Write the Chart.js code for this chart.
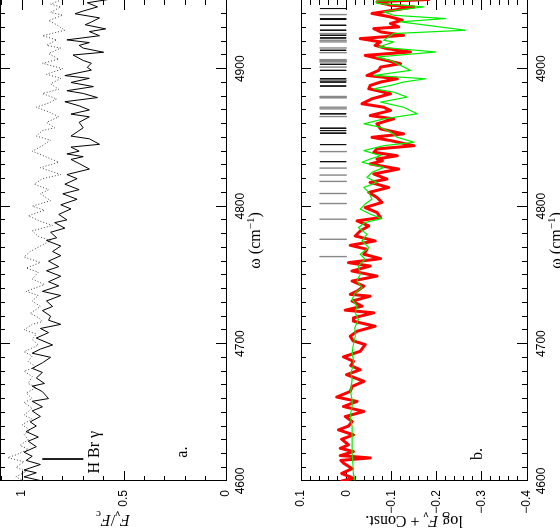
<!DOCTYPE html>
<html>
<head>
<meta charset="utf-8">
<script src="https://cdn.jsdelivr.net/npm/chart.js@4.4.1/dist/chart.umd.min.js"></script>
<style>
html, body { margin: 0; padding: 0; background: #fff; overflow: hidden; }
/* the figure is drawn landscape and turned a quarter turn, like the printed page */
#fig { position: absolute; left: 0; top: 0; width: 529px; height: 560px;
       transform-origin: 0 0; transform: translateY(529px) rotate(-90deg); }
canvas { display: block; }
</style>
</head>
<body>
<div id="fig">
  <canvas id="chartA" width="529" height="280"></canvas>
  <canvas id="chartB" width="529" height="280"></canvas>
</div>
<script>
// ---- values ----
// panel a, solid spectrum: wavenumber (cm-1) and F_nu/F_c
const solidW = [4600, 4603, 4606, 4608, 4612, 4615, 4618, 4621, 4625, 4629, 4632, 4636, 4640, 4643, 4647, 4651,
  4654, 4658, 4660, 4665, 4669, 4671, 4675, 4679, 4682, 4686, 4690, 4693, 4696, 4699, 4704, 4708, 4711, 4714,
  4717, 4720, 4724, 4727, 4731, 4735, 4738, 4742, 4745, 4749, 4753, 4756, 4760, 4764, 4767, 4771, 4775, 4777,
  4781, 4784, 4788, 4790, 4794, 4798, 4801, 4805, 4809, 4812, 4816, 4820, 4823, 4827, 4831, 4834, 4836, 4838,
  4840, 4843, 4845, 4849, 4851, 4854, 4857, 4861, 4865, 4867, 4870, 4873, 4876, 4879, 4882, 4884, 4887, 4890,
  4893, 4895, 4899, 4901, 4904, 4906, 4910, 4912, 4915, 4917, 4919, 4921, 4924, 4927, 4929, 4932, 4934, 4937,
  4940, 4942, 4945, 4948, 4951];
const solidF = [0.90, 0.99, 0.93, 0.99, 0.91, 0.98, 0.95, 0.99, 0.93, 0.97, 0.92, 0.98, 0.93, 0.96, 0.91, 0.95,
  0.90, 0.95, 0.87, 0.90, 0.95, 0.89, 0.93, 0.90, 0.95, 0.90, 0.86, 0.95, 0.91, 0.85, 0.93, 0.87, 0.91, 0.81,
  0.87, 0.86, 0.90, 0.85, 0.88, 0.81, 0.90, 0.82, 0.87, 0.81, 0.88, 0.82, 0.87, 0.81, 0.85, 0.81, 0.88, 0.83,
  0.86, 0.79, 0.84, 0.78, 0.82, 0.76, 0.81, 0.73, 0.80, 0.72, 0.79, 0.73, 0.78, 0.67, 0.72, 0.76, 0.70, 0.78,
  0.72, 0.76, 0.62, 0.67, 0.76, 0.73, 0.70, 0.72, 0.67, 0.76, 0.67, 0.72, 0.79, 0.63, 0.70, 0.78, 0.65, 0.76,
  0.67, 0.79, 0.66, 0.68, 0.66, 0.70, 0.75, 0.60, 0.70, 0.72, 0.67, 0.78, 0.62, 0.67, 0.59, 0.69, 0.66, 0.62,
  0.74, 0.70, 0.63, 0.68, 0.55];
// panel a, dotted spectrum
const dotW = [4600, 4603, 4607, 4610, 4614, 4617, 4619, 4623, 4626, 4630, 4634, 4637, 4641, 4645, 4648, 4653,
  4657, 4660, 4664, 4668, 4671, 4676, 4680, 4683, 4687, 4691, 4694, 4699, 4703, 4707, 4710, 4714, 4716, 4719,
  4722, 4727, 4731, 4735, 4738, 4743, 4747, 4752, 4755, 4759, 4763, 4767, 4771, 4775, 4778, 4782, 4786, 4789,
  4793, 4797, 4800, 4804, 4809, 4812, 4816, 4820, 4823, 4828, 4832, 4837, 4840, 4844, 4848, 4851, 4855, 4857,
  4861, 4865, 4868, 4872, 4875, 4878, 4882, 4885, 4889, 4893, 4896, 4900, 4904, 4907, 4911, 4915, 4917, 4921,
  4924, 4928, 4932, 4935, 4939, 4941, 4945, 4947, 4950];
const dotF = [0.99, 1.03, 0.98, 1.03, 0.99, 1.07, 1.03, 0.97, 1.01, 0.97, 0.99, 0.96, 1.00, 0.95, 0.99, 0.95,
  0.99, 0.95, 0.98, 0.93, 0.97, 0.95, 0.99, 0.93, 0.97, 0.95, 0.99, 0.92, 0.95, 0.93, 0.99, 0.95, 0.90, 0.92,
  0.96, 0.91, 0.95, 0.92, 0.98, 0.89, 0.95, 0.92, 0.98, 0.91, 0.99, 0.96, 0.91, 0.86, 0.92, 0.95, 0.85, 0.91,
  0.97, 0.89, 0.95, 0.86, 0.91, 0.87, 0.94, 0.90, 0.81, 0.91, 0.82, 0.90, 0.95, 0.90, 0.86, 0.93, 0.90, 0.84,
  0.88, 0.82, 0.86, 0.93, 0.87, 0.83, 0.90, 0.82, 0.86, 0.81, 0.88, 0.80, 0.90, 0.82, 0.87, 0.81, 0.88, 0.83,
  0.90, 0.79, 0.83, 0.87, 0.80, 0.86, 0.81, 0.86, 0.81];
// panel b, observed (red): log F_nu + const
const obsW = [4600, 4602, 4605.5, 4609, 4613, 4615, 4616.8, 4618.5, 4621.4, 4623.8, 4626.3, 4630.4, 4633.6, 4637.2,
  4640, 4643.3, 4646.9, 4650.6, 4654.2, 4657.9, 4661.1, 4665.2, 4668.8, 4672.5, 4677.4, 4681, 4684, 4687.1,
  4690.3, 4694.4, 4699.3, 4702, 4705.3, 4709, 4712.6, 4716.3, 4718.7, 4722.4, 4724.3, 4727.2, 4730.9, 4734.5,
  4735.8, 4738.2, 4741.8, 4745.5, 4749.1, 4752.8, 4756.4, 4758.9, 4761.8, 4765, 4768.6, 4771.5, 4774.7, 4778.3,
  4782, 4785.6, 4789.3, 4791.7, 4795.4, 4799, 4802.7, 4806.3, 4810, 4813.6, 4817.3, 4819.7, 4823.4, 4827,
  4830.7, 4833, 4834.3, 4836.7, 4839.2, 4841.6, 4844, 4847.7, 4850.1, 4852.6, 4856.2, 4859.9, 4863.5, 4865.9,
  4869.6, 4872, 4874.5, 4878.1, 4881.8, 4885.4, 4887.8, 4890.3, 4892.7, 4895.1, 4898.8, 4901.2, 4903.7, 4907.3,
  4909.7, 4912.2, 4914.6, 4917, 4919.5, 4921.9, 4924.3, 4926.8, 4929.2, 4930.4, 4932.9, 4935.3, 4937.7, 4940.2,
  4942.6, 4945, 4946.2, 4948.7, 4950.4];
const obsF = [0.010, -0.016, 0.010, -0.013, 0.006, 0.012, -0.053, 0.013, -0.016, 0.013, -0.005, 0.010, -0.016, 0.017,
  -0.005, -0.013, 0.002, -0.039, 0.006, -0.024, 0.021, -0.009, -0.013, -0.039, -0.001, -0.031, -0.010, -0.016,
  0.006, -0.031, -0.042, -0.015, -0.009, -0.024, -0.064, -0.016, -0.016, -0.061, 0.002, -0.035, -0.013, -0.053,
  -0.009, -0.024, -0.039, -0.013, -0.068, -0.013, -0.053, -0.005, -0.076, -0.039, -0.046, -0.009, -0.064, -0.020,
  -0.031, -0.050, -0.024, -0.076, -0.068, -0.042, -0.079, -0.068, -0.050, -0.094, -0.053, -0.090, -0.061, -0.116,
  -0.053, -0.080, -0.068, -0.113, -0.061, -0.068, -0.150, -0.098, -0.057, -0.127, -0.076, -0.068, -0.105, -0.053,
  -0.098, -0.083, -0.035, -0.057, -0.098, -0.050, -0.053, -0.076, -0.113, -0.046, -0.072, -0.076, -0.120, -0.072,
  -0.042, -0.142, -0.090, -0.064, -0.076, -0.031, -0.127, -0.076, -0.061, -0.116, -0.098, -0.124, -0.098, -0.057,
  -0.105, -0.150, -0.098, -0.068, -0.183];
// panel b, model (green)
const modW = [4600.7, 4605.6, 4610.4, 4615.3, 4620.2, 4625, 4632.3, 4639.6, 4644.5, 4649.4, 4654.2, 4659.1, 4664,
  4668.8, 4673.7, 4678.6, 4683.4, 4688.3, 4693.2, 4698, 4705.3, 4711.4, 4717.5, 4722.4, 4727.2, 4732.1, 4737,
  4740.6, 4745.5, 4750.4, 4756.4, 4761.3, 4765, 4769.8, 4774.7, 4779.6, 4784.4, 4788.1, 4791, 4794.2, 4797.8,
  4801.5, 4805.1, 4810, 4813.6, 4817.3, 4820.9, 4824.6, 4828.2, 4831.9, 4834.3, 4836.7, 4840.4, 4844, 4846.5,
  4850.1, 4853.8, 4857.4, 4859.9, 4863.5, 4867.2, 4872, 4875.7, 4879.3, 4883, 4885.4, 4887.8, 4890.3, 4892.7,
  4895.1, 4898.8, 4902.4, 4906.1, 4908.5, 4912.2, 4915.8, 4919.5, 4920.7, 4925.6, 4928, 4931.6, 4934.1, 4936.5,
  4938.9, 4941.4, 4945, 4947.5, 4949.2, 4951];
const modF = [-0.019, -0.016, -0.015, -0.014, -0.013, -0.013, -0.013, -0.013, -0.010, -0.010, -0.013, -0.013, -0.010,
  -0.011, -0.013, -0.010, -0.015, -0.016, -0.013, -0.015, -0.020, -0.019, -0.027, -0.020, -0.024, -0.013, -0.020,
  -0.035, -0.024, -0.031, -0.027, -0.042, -0.031, -0.050, -0.035, -0.046, -0.027, -0.042, -0.079, -0.053, -0.031,
  -0.042, -0.057, -0.050, -0.039, -0.068, -0.046, -0.057, -0.083, -0.035, -0.053, -0.076, -0.039, -0.083, -0.150,
  -0.113, -0.098, -0.076, -0.039, -0.083, -0.157, -0.127, -0.076, -0.135, -0.105, -0.061, -0.098, -0.127, -0.176,
  -0.061, -0.142, -0.120, -0.098, -0.068, -0.198, -0.072, -0.105, -0.083, -0.105, -0.264, -0.179, -0.120, -0.220,
  -0.105, -0.083, -0.172, -0.068, -0.068, -0.224];
// line positions marked at the top of panel b
const strongLines = [4832.4, 4844.8, 4853.1, 4855.0, 4856.7, 4867.2, 4887.4, 4890.3, 4892.7, 4898.8, 4903.2,
  4913.4, 4922.4, 4924.3, 4928.0, 4931.6, 4935.8, 4936.5, 4943.8];
const weakLines = [4763.3, 4775.9, 4790.5, 4801.9, 4809.2, 4818.0, 4822.6, 4827.7, 4839.7, 4865.2, 4870.8,
  4872.0, 4878.8, 4879.8, 4891.5, 4901.2, 4904.9, 4905.6, 4906.6, 4911.7, 4915.1, 4919.5, 4920.7, 4925.6, 4939.4];
const brGamma = 4616;

// tick labels
const wnLabels = [4600, 4700, 4800, 4900];
const aLabels = [0, 0.5, 1];
const bLabels = [0.1, 0, -0.1, -0.2, -0.3, -0.4];

// ---- helpers ----
const tickFont = { family: '"Liberation Sans", Arial, sans-serif', size: 12 };
const serif = '"Liberation Serif", "Times New Roman", serif';

function pts(w, f) {
  return w.map((x, i) => ({ x: x, y: f[i] }));
}

// vertical marks, separated by gaps
function marks(ws, top, bot) {
  const out = [];
  ws.forEach(w => { out.push({ x: w, y: top }, { x: w, y: bot }, { x: w, y: null }); });
  return out;
}

function fmtNum(v) {
  const s = String(Math.round(v * 10) / 10);
  return v < 0 ? '\u2212' + s.slice(1) : s;
}

function zeroFit(s) {
  if (s.isHorizontal()) s.height = 0; else s.width = 0;
  s.paddingTop = s.paddingBottom = s.paddingLeft = s.paddingRight = 0;
}

// axis that only draws inward tick marks (and the frame line)
function tickAxis(axis, pos, min, max, step, len) {
  return {
    type: 'linear', axis: axis, position: pos, min: min, max: max, weight: 0,
    ticks: { display: false, stepSize: step, includeBounds: false, autoSkip: false },
    grid: { drawOnChartArea: false, tickLength: len, color: '#000', lineWidth: 1 },
    border: { display: true, color: '#000', width: 1 },
    afterFit: zeroFit
  };
}

function buildScales(o) {
  return {
    x: {
      type: 'linear', axis: 'x', position: 'bottom', min: 4600, max: 4950, weight: 1,
      ticks: {
        stepSize: 10, includeBounds: false, autoSkip: false, maxRotation: 0, minRotation: 0,
        color: '#000', font: tickFont, padding: 12,
        callback: v => wnLabels.includes(Math.round(v)) ? String(Math.round(v)) : ''
      },
      grid: { drawOnChartArea: false, tickLength: -5, color: '#000', lineWidth: 1 },
      border: { display: true, color: '#000', width: 1 },
      afterFit: s => { s.height = o.bottomH; s.paddingLeft = s.paddingRight = 0; }
    },
    xMaj: tickAxis('x', 'bottom', 4600, 4950, 100, -10),
    xTop: tickAxis('x', 'top', 4600, 4950, 10, -5),
    xTopMaj: tickAxis('x', 'top', 4600, 4950, 100, -10),
    y: {
      type: 'linear', axis: 'y', position: 'left', min: o.yMin, max: o.yMax, weight: 1,
      ticks: {
        stepSize: o.minor, includeBounds: false, autoSkip: false,
        color: '#000', font: tickFont, padding: 14,
        callback: v => {
          const m = o.labels.find(l => Math.abs(l - v) < 1e-6);
          return m === undefined ? '' : fmtNum(m);
        }
      },
      grid: { drawOnChartArea: false, tickLength: -5, color: '#000', lineWidth: 1 },
      border: { display: true, color: '#000', width: 1 },
      afterFit: s => { s.width = 48; s.paddingTop = s.paddingBottom = 0; }
    },
    yMaj: tickAxis('y', 'left', o.yMin, o.yMax, o.major, -10),
    yR: tickAxis('y', 'right', o.yMin, o.yMax, o.minor, -5),
    yRMaj: tickAxis('y', 'right', o.yMin, o.yMax, o.major, -10)
  };
}

// text with italic / sub / superscript pieces
function drawRich(ctx, parts, x, y, rot, align) {
  const fontOf = p => (p.s === 'it' ? 'italic ' : '') + (p.s === 'sub' || p.s === 'sup' ? 11 : 16) + 'px ' + serif;
  ctx.save();
  ctx.translate(x, y);
  ctx.rotate(rot);
  ctx.textAlign = 'left';
  ctx.textBaseline = 'alphabetic';
  ctx.fillStyle = '#000';
  let w = 0;
  parts.forEach(p => { ctx.font = fontOf(p); w += ctx.measureText(p.t).width; });
  let cx = align === 'left' ? 0 : -w / 2;
  parts.forEach(p => {
    ctx.font = fontOf(p);
    const dy = p.s === 'sub' ? 4 : (p.s === 'sup' ? -6 : 0);
    ctx.fillText(p.t, cx, 5 + dy);
    cx += ctx.measureText(p.t).width;
  });
  ctx.restore();
}

function textPlugin(o) {
  return {
    id: 'figText',
    afterDraw(chart) {
      const ctx = chart.ctx, ca = chart.chartArea;
      const xs = chart.scales.x, ys = chart.scales.y;
      drawRich(ctx, [{ t: '\u03c9 (cm' }, { t: '\u22121', s: 'sup' }, { t: ')' }], (ca.left + ca.right) / 2, ca.bottom + 29, 0);
      drawRich(ctx, o.yTitle, o.yTitleX, (ca.top + ca.bottom) / 2, -Math.PI / 2);
      o.notes.forEach(n => {
        drawRich(ctx, n.parts, xs.getPixelForValue(n.w), ys.getPixelForValue(n.f), 0, n.align);
      });
    }
  };
}

const common = {
  responsive: false, animation: false, devicePixelRatio: 1, events: [],
  plugins: { legend: { display: false }, tooltip: { enabled: false } },
  elements: { point: { radius: 0 }, line: { tension: 0, borderJoinStyle: 'round', borderCapStyle: 'round' } }
};

// ---- panel a ----
new Chart(document.getElementById('chartA'), {
  type: 'scatter',
  data: {
    datasets: [
      { data: pts(solidW, solidF), showLine: true, borderColor: '#000', borderWidth: 1 },
      { data: pts(dotW, dotF), showLine: true, borderColor: '#444', borderWidth: 1, borderDash: [1, 2],
        borderCapStyle: 'butt' },
      { data: marks([brGamma], 0.9, 0.7), showLine: true, borderColor: '#000', borderWidth: 1, borderCapStyle: 'butt' }
    ]
  },
  options: Object.assign({}, common, {
    layout: { padding: 0 },
    scales: buildScales({ yMin: 0, yMax: 1.108, minor: 0.1, major: 0.5, labels: aLabels, bottomH: 54 })
  }),
  plugins: [textPlugin({
    yTitleX: 9,
    yTitle: [{ t: 'F', s: 'it' }, { t: '\u03bd', s: 'sub' }, { t: '/' }, { t: 'F', s: 'it' }, { t: 'c', s: 'sub' }],
    notes: [
      { parts: [{ t: 'H Br \u03b3' }], w: 4605.5, f: 0.647, align: 'left' },
      { parts: [{ t: 'a.' }], w: 4621, f: 0.216 }
    ]
  })]
});

// ---- panel b ----
new Chart(document.getElementById('chartB'), {
  type: 'scatter',
  data: {
    datasets: [
      { data: pts(modW, modF), showLine: true, borderColor: '#00ee00', borderWidth: 1.2 },
      { data: pts(obsW, obsF), showLine: true, borderColor: '#ff0000', borderWidth: 3 },
      { data: marks(strongLines, 0.058, 0), showLine: true, borderColor: '#111', borderWidth: 1,
        spanGaps: false, borderCapStyle: 'butt' },
      { data: marks(weakLines, 0.058, 0), showLine: true, borderColor: '#888', borderWidth: 1.4,
        spanGaps: false, borderCapStyle: 'butt' }
    ]
  },
  options: Object.assign({}, common, {
    layout: { padding: { top: 21 } },
    scales: buildScales({ yMin: -0.4, yMax: 0.1, minor: 0.02, major: 0.1, labels: bLabels, bottomH: 33 })
  }),
  plugins: [textPlugin({
    yTitleX: 8,
    yTitle: [{ t: 'log ' }, { t: 'F', s: 'it' }, { t: '\u03bd', s: 'sub' }, { t: ' + Const.' }],
    notes: [
      { parts: [{ t: 'b.' }], w: 4619.7, f: -0.289 }
    ]
  })]
});
</script>
</body>
</html>
